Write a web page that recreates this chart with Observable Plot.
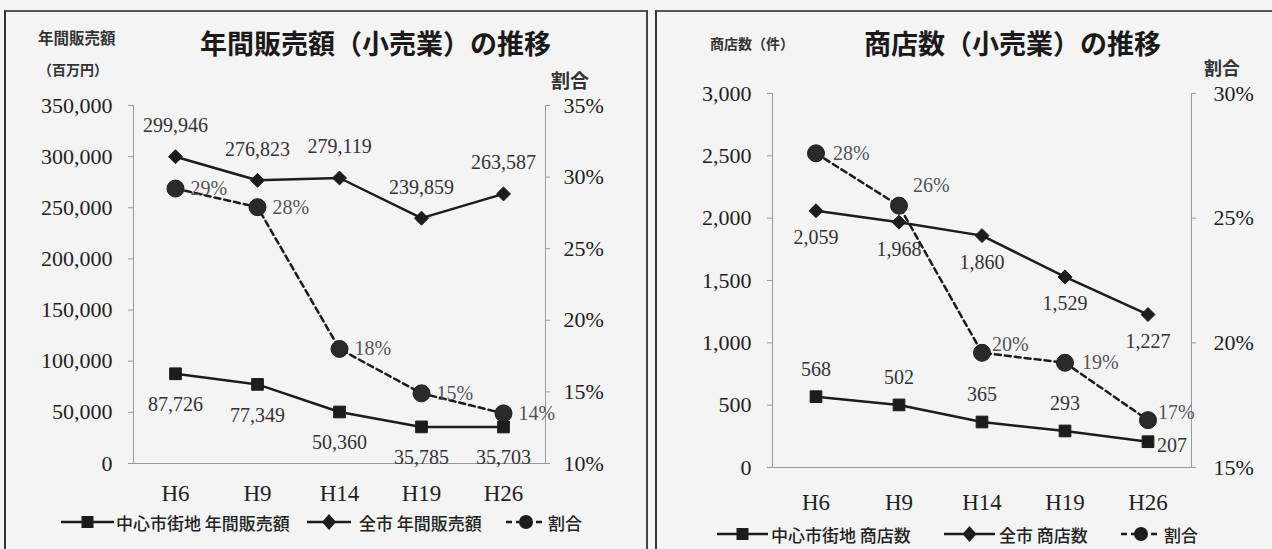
<!DOCTYPE html>
<html><head><meta charset="utf-8">
<script src="https://cdn.jsdelivr.net/npm/d3@7"></script>
<script src="https://cdn.jsdelivr.net/npm/@observablehq/plot@0.6"></script>
<style>
html,body{margin:0;padding:0;}
body{background:#f4f4f4;width:1272px;height:549px;overflow:hidden;position:relative;font-family:"Noto Sans CJK JP","Noto Sans",sans-serif;color:#222;}
.abs{position:absolute;white-space:nowrap;line-height:1;}
.title{font-size:27px;font-weight:700;color:#1a1a1a;}
.unit{font-size:14px;font-weight:700;color:#333;}
.rate{font-size:19px;font-weight:700;color:#333;}
.leg{font-size:17px;font-weight:500;color:#222;display:flex;align-items:center;}
.leg svg{display:block;}
.border{position:absolute;border-top:2px solid #555;border-left:2px solid #333;}
svg.plot{position:absolute;top:0;}
</style></head>
<body>
<script>
// ---------- data ----------
const years = ["H6", "H9", "H14", "H19", "H26"];
// 年間販売額（百万円）
const salesCenter = [87726, 77349, 50360, 35785, 35703];
const salesTotal = [299946, 276823, 279119, 239859, 263587];
const salesShare = [29.2, 27.9, 18.0, 14.9, 13.5];
const salesTicks = [0, 50000, 100000, 150000, 200000, 250000, 300000, 350000];
const salesShareTicks = [10, 15, 20, 25, 30, 35];
// 商店数（件）
const storesCenter = [568, 502, 365, 293, 207];
const storesTotal = [2059, 1968, 1860, 1529, 1227];
const storesShare = [27.6, 25.5, 19.6, 19.2, 16.9];
const storesTicks = [0, 500, 1000, 1500, 2000, 2500, 3000];
const storesShareTicks = [15, 20, 25, 30];

const fmt = d3.format(",");
const SERIF = "'Liberation Serif','DejaVu Serif',serif";
const INK = "#1c1c1c";

function panel(cfg) {
  const yMax = cfg.ticks[cfg.ticks.length - 1];
  const sMin = cfg.shareTicks[0], sMax = cfg.shareTicks[cfg.shareTicks.length - 1];
  const toY = s => (s - sMin) / (sMax - sMin) * yMax;
  const fromY = v => Math.round(sMin + v / yMax * (sMax - sMin));
  const rows = years.map((year, i) => ({
    i, year, center: cfg.center[i], total: cfg.total[i], share: cfg.share[i], shareY: toY(cfg.share[i])
  }));
  const lab = {fontFamily: SERIF, fontSize: 20, fill: "#333"};
  const marks = [
    Plot.frame({anchor: "left", stroke: "#9a9a9a"}),
    Plot.frame({anchor: "right", stroke: "#9a9a9a"}),
    Plot.frame({anchor: "bottom", stroke: "#9a9a9a"}),
    Plot.axisY(cfg.ticks, {anchor: "left", tickSize: 5, tickPadding: 16, tickFormat: fmt, label: null,
      stroke: "#999", fill: "#222", fontSize: 22, fontFamily: SERIF}),
    Plot.axisY(cfg.shareTicks.map(toY), {anchor: "right", tickSize: 4, tickPadding: cfg.rightPad, tickFormat: d => fromY(d) + "%", label: null,
      stroke: "#999", fill: "#222", fontSize: 22, fontFamily: SERIF}),
    Plot.axisX(years, {anchor: "bottom", tickSize: 0, tickPadding: cfg.xPad, label: null, fill: "#222", fontSize: 23, fontFamily: SERIF}),
    Plot.line(rows, {x: "year", y: "total", stroke: INK, strokeWidth: 2.5}),
    Plot.line(rows, {x: "year", y: "center", stroke: INK, strokeWidth: 2.5}),
    Plot.line(rows, {x: "year", y: "shareY", stroke: INK, strokeWidth: 2.5, strokeDasharray: "6,4"}),
    Plot.dot(rows, {x: "year", y: "total", symbol: "diamond2", r: 6.3, fill: INK, stroke: INK, strokeWidth: 1}),
    Plot.dot(rows, {x: "year", y: "center", symbol: "square", r: 6.6, fill: INK, stroke: INK, strokeWidth: 1}),
    Plot.dot(rows, {x: "year", y: "shareY", symbol: "circle", r: 8.5, fill: "#2a2a2a", stroke: INK, strokeWidth: 1})
  ];
  cfg.labels(rows, lab).forEach(m => marks.push(m));
  const svg = Plot.plot({
    width: cfg.width, height: 549,
    marginLeft: cfg.ml, marginRight: cfg.mr, marginTop: cfg.mt, marginBottom: cfg.mb,
    x: {type: "band", domain: years, padding: 0},
    y: {domain: [0, yMax]},
    style: {background: "transparent", color: "#222", fontFamily: SERIF, fontSize: "20px", overflow: "visible"},
    marks
  });
  svg.classList.add("plot");
  svg.style.left = cfg.left + "px";
  document.body.appendChild(svg);
}

// left: 年間販売額
panel({
  left: 0, width: 645, ml: 133, mr: 100, mt: 105, mb: 86, rightPad: 14, xPad: 21,
  center: salesCenter, total: salesTotal, share: salesShare,
  ticks: salesTicks, shareTicks: salesShareTicks,
  labels: (rows, lab) => [
    Plot.text(rows, {x: "year", y: "total", text: d => fmt(d.total), dy: -31, ...lab}),
    Plot.text(rows, {x: "year", y: "center", text: d => fmt(d.center), dy: 31, ...lab}),
    Plot.text(rows, {x: "year", y: "shareY", text: d => Math.round(d.share) + "%", dx: 15, textAnchor: "start", ...lab, fill: "#555"})
  ]
});

// right: 商店数
panel({
  left: 640, width: 632, ml: 132, mr: 81, mt: 93, mb: 82, rightPad: 18, xPad: 26,
  center: storesCenter, total: storesTotal, share: storesShare,
  ticks: storesTicks, shareTicks: storesShareTicks,
  labels: (rows, lab) => [
    Plot.text(rows, {x: "year", y: "total", text: d => fmt(d.total), dy: 27, ...lab}),
    Plot.text(rows.filter(d => d.i < 4), {x: "year", y: "center", text: d => fmt(d.center), dy: -27, ...lab}),
    Plot.text(rows.filter(d => d.i === 4), {x: "year", y: "center", text: d => fmt(d.center), dx: 9, dy: 4, textAnchor: "start", ...lab}),
    Plot.text(rows.filter(d => d.i === 0 || d.i === 3), {x: "year", y: "shareY", text: d => Math.round(d.share) + "%", dx: 17, textAnchor: "start", ...lab, fill: "#555"}),
    Plot.text(rows.filter(d => d.i === 1), {x: "year", y: "shareY", text: d => Math.round(d.share) + "%", dx: 14, dy: -20, textAnchor: "start", ...lab, fill: "#555"}),
    Plot.text(rows.filter(d => d.i === 2 || d.i === 4), {x: "year", y: "shareY", text: d => Math.round(d.share) + "%", dx: 10, dy: -8, textAnchor: "start", ...lab, fill: "#555"})
  ]
});

// ---------- frames, titles, legends (HTML) ----------
function add(html) { document.body.insertAdjacentHTML("beforeend", html); }
add(`<div class="border" style="left:4px;top:10px;width:640px;height:560px;border-right:2px solid #444;"></div>`);
add(`<div class="border" style="left:655px;top:10px;width:640px;height:560px;"></div>`);

add(`<div class="abs title" style="left:200px;top:29px;">年間販売額（小売業）の推移</div>`);
add(`<div class="abs unit" style="left:38px;top:30px;font-size:15.5px;">年間販売額</div>`);
add(`<div class="abs unit" style="left:38px;top:62px;">（百万円）</div>`);
add(`<div class="abs rate" style="left:551px;top:70px;">割合</div>`);

add(`<div class="abs title" style="left:864px;top:29px;">商店数（小売業）の推移</div>`);
add(`<div class="abs unit" style="left:710px;top:36px;">商店数（件）</div>`);
add(`<div class="abs rate" style="left:1204px;top:58px;font-size:18px;">割合</div>`);

function sw(kind, w) {
  const mid = w / 2;
  let m = "";
  if (kind === "square") m = `<rect x="${mid-6}" y="4" width="12" height="12" fill="${INK}"/>`;
  if (kind === "diamond") m = `<path d="M${mid} 2 L${mid+7} 10 L${mid} 18 L${mid-7} 10 Z" fill="${INK}"/>`;
  if (kind === "circle") m = `<circle cx="${mid}" cy="10" r="7" fill="${INK}"/>`;
  const dash = kind === "circle" ? ` stroke-dasharray="6,4"` : "";
  return `<svg width="${w}" height="20"><line x1="0" x2="${w}" y1="10" y2="10" stroke="${INK}" stroke-width="2.5"${dash}/>${m}</svg>`;
}
function legend(items, top) {
  items.forEach(it => add(`<div class="abs leg" style="left:${it.x}px;top:${top}px;">${sw(it.kind, it.w)}<span style="margin-left:${it.gap}px">${it.text}</span></div>`));
}
legend([
  {x: 61, w: 53, kind: "square", gap: 2, text: "中心市街地 年間販売額"},
  {x: 307, w: 44, kind: "diamond", gap: 8, text: "全市 年間販売額"},
  {x: 506, w: 40, kind: "circle", gap: 2, text: "割合"}
], 512);
legend([
  {x: 717, w: 51, kind: "square", gap: 3, text: "中心市街地 商店数"},
  {x: 944, w: 51, kind: "diamond", gap: 4, text: "全市 商店数"},
  {x: 1121, w: 40, kind: "circle", gap: 3, text: "割合"}
], 524);
</script>
</body></html>
